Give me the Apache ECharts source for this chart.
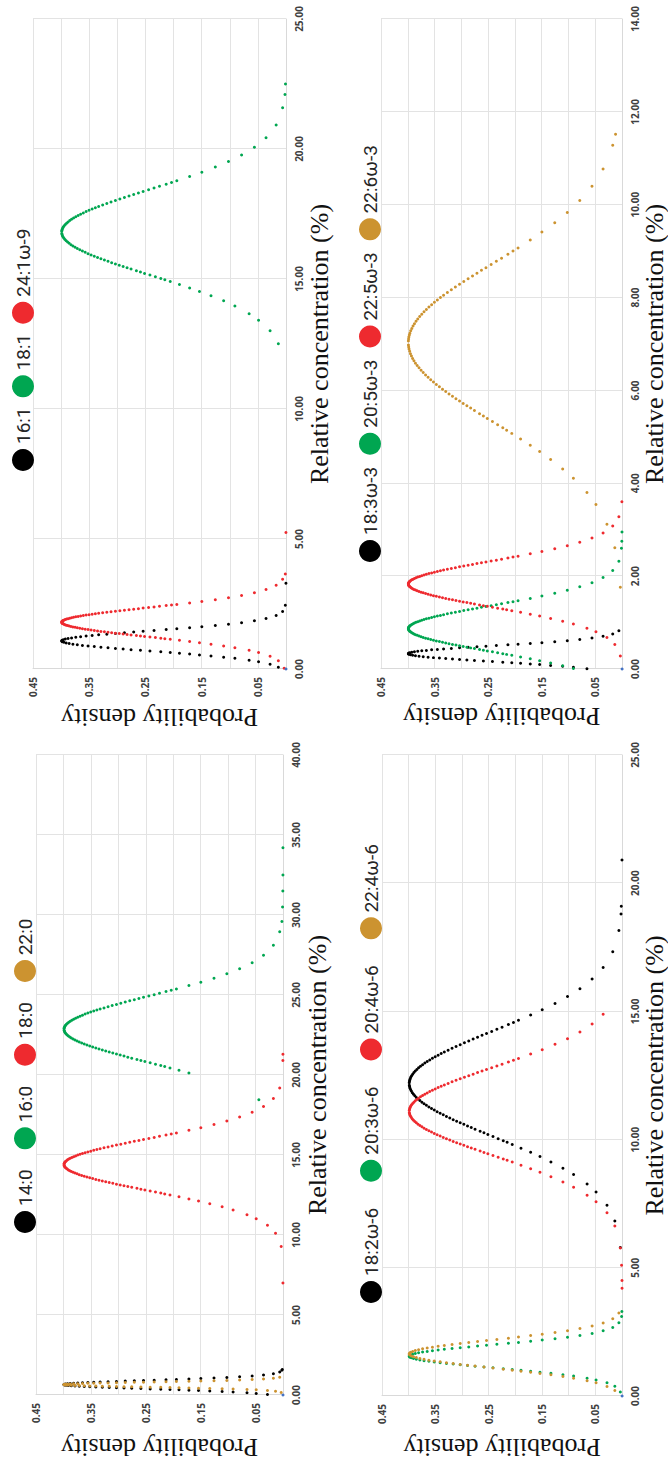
<!DOCTYPE html>
<html>
<head>
<meta charset="utf-8">
<script src="https://cdn.jsdelivr.net/npm/echarts@6/dist/echarts.min.js"></script>
<style>
html,body{margin:0;padding:0;background:#fff;overflow:hidden;width:668px;height:1466px;}
#chart{position:absolute;left:0;top:0;width:1466px;height:668px;transform-origin:0 0;transform:translateY(1466px) rotate(-90deg);}
</style>
</head>
<body>
<div id="chart"></div>
<script>
// Density levels (shared sampling of each bell curve)
const DENS = [0.0033,0.0136,0.0283,0.0488,0.0656,0.0909,0.1109,0.1334,0.1539,0.1714,0.1895,0.2059,0.2227,0.2420,0.2589,0.2756,0.2897,0.3034,0.3166,0.3292,0.3410,0.3521,0.3621,0.3712,0.3790,0.3857,0.3910,0.3950,0.3977,0.3988,
 0.3989,0.3980,0.3961,0.3925,0.3876,0.3814,0.3739,0.3653,0.3555,0.3448,0.3332,0.3187,0.3034,0.2874,0.2709,0.2541,0.2347,0.2131,0.1942,0.1714,0.1497,0.1257,0.1023,0.0790,0.0562,0.0355,0.0175,0.0060];
// Extra density levels near the peaks (where the dots merge into solid arcs)
const DENS2 = [0.2155,0.2323,0.2516,0.2661,0.2827,0.2966,0.3101,0.3230,0.3352,0.3467,0.3572,0.3668,0.3752,0.3825,0.3885,0.3932,0.3965,0.3983,
 0.3985,0.3971,0.3945,0.3902,0.3846,0.3778,0.3697,0.3605,0.3503,0.3391,0.3261,0.3112,0.2955,0.2792,0.2625,0.2444,0.2250,0.2036];

// Panel: monounsaturated
const NAMES_MONO = ['16:1','18:1','24:1ω-9'];
const C_16_1 = [null,0.066,0.183,0.28,0.339,0.409,0.456,0.503,0.542,0.573,0.604,0.632,0.659,0.69,0.717,0.745,0.768,0.791,0.815,0.838,0.862,0.885,0.908,0.932,0.955,0.979,1.002,1.025,1.049,1.068,
 1.088,1.107,1.127,1.15,1.174,1.197,1.22,1.244,1.267,1.291,1.314,1.341,1.369,1.396,1.423,1.451,1.482,1.517,1.548,1.587,1.626,1.673,1.724,1.782,1.852,1.938,2.055,2.211];
const X_16_1 = [[2.45,0.0012],[3.3,0.0001]];
const K_16_1 = [];
const C_18_1 = [null,12.51,13.005,13.418,13.665,13.962,14.16,14.358,14.523,14.655,14.787,14.903,15.018,15.15,15.266,15.381,15.48,15.579,15.678,15.777,15.876,15.975,16.074,16.173,16.272,16.371,16.47,16.569,16.668,16.75,
 16.833,16.916,16.998,17.097,17.196,17.295,17.394,17.493,17.592,17.691,17.79,17.906,18.021,18.137,18.252,18.368,18.5,18.648,18.78,18.945,19.11,19.308,19.523,19.77,20.067,20.43,20.925,21.585];
const X_18_1 = [[22.1,0.0018],[22.5,0.0009]];
const K_18_1 = [14.969,15.084,15.216,15.315,15.431,15.53,15.629,15.728,15.827,15.926,16.025,16.124,16.223,16.322,16.421,16.52,16.619,16.709,
 16.874,16.957,17.048,17.147,17.246,17.345,17.444,17.543,17.642,17.741,17.848,17.963,18.079,18.194,18.31,18.434,18.566,18.714];
const C_24_1 = [0.033,0.318,0.489,0.632,0.717,0.82,0.888,0.956,1.013,1.059,1.105,1.145,1.184,1.23,1.27,1.31,1.344,1.378,1.412,1.447,1.481,1.515,1.549,1.583,1.618,1.652,1.686,1.72,1.754,1.783,
 1.811,1.84,1.868,1.903,1.937,1.971,2.005,2.039,2.074,2.108,2.142,2.182,2.222,2.262,2.302,2.342,2.387,2.438,2.484,2.541,2.598,2.666,2.741,2.826,2.929,3.054,3.225,3.453];
const X_24_1 = [[3.65,0.0012],[5.25,0.0001]];
const K_24_1 = [1.167,1.207,1.253,1.287,1.327,1.361,1.395,1.43,1.464,1.498,1.532,1.566,1.601,1.635,1.669,1.703,1.737,1.769,
 1.826,1.854,1.886,1.92,1.954,1.988,2.022,2.057,2.091,2.125,2.162,2.202,2.242,2.282,2.322,2.364,2.41,2.461];

// Panel: omega-3
const NAMES_W3 = ['18:3ω-3','20:5ω-3','22:5ω-3','22:6ω-3'];
const C_18_3 = [null,null,null,null,0.007,0.038,0.058,0.078,0.095,0.109,0.123,0.135,0.146,0.16,0.172,0.184,0.194,0.204,0.214,0.225,0.235,0.245,0.255,0.265,0.276,0.286,0.296,0.306,0.316,0.325,
 0.333,0.342,0.35,0.361,0.371,0.381,0.391,0.401,0.412,0.422,0.432,0.444,0.456,0.468,0.48,0.492,0.505,0.52,0.534,0.551,0.568,0.588,0.611,0.636,0.667,0.704,0.755,0.823];
const X_18_3 = [];
const K_18_3 = [];
const C_20_5 = [null,null,null,null,null,0.01,0.07,0.13,0.18,0.22,0.26,0.295,0.33,0.37,0.405,0.44,0.47,0.5,0.53,0.56,0.59,0.62,0.65,0.68,0.71,0.74,0.77,0.8,0.83,0.855,
 0.88,0.905,0.93,0.96,0.99,1.02,1.05,1.08,1.11,1.14,1.17,1.205,1.24,1.275,1.31,1.345,1.385,1.43,1.47,1.52,1.57,1.63,1.695,1.77,1.86,1.97,2.12,2.32];
const X_20_5 = [[2.6,0.0012],[2.75,0.0005],[2.95,0.0002]];
const K_20_5 = [0.315,0.35,0.39,0.42,0.455,0.485,0.515,0.545,0.575,0.605,0.635,0.665,0.695,0.725,0.755,0.785,0.815,0.843,
 0.893,0.918,0.945,0.975,1.005,1.035,1.065,1.095,1.125,1.155,1.188,1.223,1.258,1.293,1.328,1.365,1.405,1.45];
const C_22_5 = [0.28,0.53,0.68,0.805,0.88,0.97,1.03,1.09,1.14,1.18,1.22,1.255,1.29,1.33,1.365,1.4,1.43,1.46,1.49,1.52,1.55,1.58,1.61,1.64,1.67,1.7,1.73,1.76,1.79,1.815,
 1.84,1.865,1.89,1.92,1.95,1.98,2.01,2.04,2.07,2.1,2.13,2.165,2.2,2.235,2.27,2.305,2.345,2.39,2.43,2.48,2.53,2.59,2.655,2.73,2.82,2.93,3.08,3.28];
const X_22_5 = [[3.6,0.0004]];
const K_22_5 = [1.275,1.31,1.35,1.38,1.415,1.445,1.475,1.505,1.535,1.565,1.595,1.625,1.655,1.685,1.715,1.745,1.775,1.803,
 1.853,1.878,1.905,1.935,1.965,1.995,2.025,2.055,2.085,2.115,2.148,2.183,2.218,2.253,2.288,2.325,2.365,2.41];
const C_22_6 = [1.76,2.61,3.12,3.545,3.8,4.106,4.31,4.514,4.684,4.82,4.956,5.075,5.194,5.33,5.449,5.568,5.67,5.772,5.874,5.976,6.078,6.18,6.282,6.384,6.486,6.588,6.69,6.792,6.894,6.979,
 7.064,7.149,7.234,7.336,7.438,7.54,7.642,7.744,7.846,7.948,8.05,8.169,8.288,8.407,8.526,8.645,8.781,8.934,9.07,9.24,9.41,9.614,9.835,10.09,10.396,10.77,11.28,null];
const X_22_6 = [[11.52,0.0122]];
const K_22_6 = [5.143,5.262,5.398,5.5,5.619,5.721,5.823,5.925,6.027,6.129,6.231,6.333,6.435,6.537,6.639,6.741,6.843,6.937,
 7.107,7.192,7.285,7.387,7.489,7.591,7.693,7.795,7.897,7.999,8.11,8.229,8.348,8.467,8.586,8.713,8.849,9.002];

// Panel: saturated
const NAMES_SAT = ['14:0','16:0','18:0','22:0'];
const C_14_0 = [null,null,0.029,0.097,0.137,0.186,0.218,0.25,0.277,0.299,0.321,0.34,0.358,0.38,0.399,0.418,0.434,0.45,0.466,0.483,0.499,0.515,0.531,0.547,0.564,0.58,0.596,0.612,0.628,0.642,
 0.655,0.669,0.682,0.699,0.715,0.731,0.747,0.763,0.78,0.796,0.812,0.831,0.85,0.869,0.888,0.907,0.928,0.952,0.974,1.001,1.028,1.06,1.096,1.136,1.185,1.244,1.325,1.433];
const X_14_0 = [[1.55,0.0022],[1.6,0.0012]];
const K_14_0 = [];
const C_16_0 = [null,null,null,null,null,null,null,null,null,20.13,20.298,20.445,20.592,20.76,20.907,21.054,21.18,21.306,21.432,21.558,21.684,21.81,21.936,22.062,22.188,22.314,22.44,22.566,22.692,22.797,
 22.902,23.007,23.112,23.238,23.364,23.49,23.616,23.742,23.868,23.994,24.12,24.267,24.414,24.561,24.708,24.855,25.023,25.212,25.38,25.59,25.8,26.052,26.325,26.64,27.018,27.48,28.11,28.95];
const X_16_0 = [[18.45,0.044],[29.6,0.002],[30.5,0.0008],[31.5,0.0003],[32.5,0.0001],[34.2,0.0001]];
const K_16_0 = [20.529,20.676,20.844,20.97,21.117,21.243,21.369,21.495,21.621,21.747,21.873,21.999,22.125,22.251,22.377,22.503,22.629,22.745,
 22.955,23.06,23.175,23.301,23.427,23.553,23.679,23.805,23.931,24.057,24.194,24.341,24.488,24.635,24.782,24.939,25.107,25.296];
const C_18_0 = [9.285,10.11,10.605,11.018,11.265,11.562,11.76,11.958,12.123,12.255,12.387,12.503,12.618,12.75,12.866,12.981,13.08,13.179,13.278,13.377,13.476,13.575,13.674,13.773,13.872,13.971,14.07,14.169,14.268,14.35,
 14.433,14.516,14.598,14.697,14.796,14.895,14.994,15.093,15.192,15.291,15.39,15.506,15.621,15.737,15.852,15.968,16.1,16.248,16.38,16.545,16.71,16.908,17.123,17.37,17.667,18.03,18.525,19.185];
const X_18_0 = [[7.0,0.0001],[20.9,0.0002],[21.3,0.0001]];
const K_18_0 = [12.569,12.684,12.816,12.915,13.031,13.13,13.229,13.328,13.427,13.526,13.625,13.724,13.823,13.922,14.021,14.12,14.219,14.309,
 14.474,14.557,14.648,14.747,14.846,14.945,15.044,15.143,15.242,15.341,15.448,15.563,15.679,15.794,15.91,16.034,16.166,16.314];
const C_22_0 = [0.154,0.234,0.282,0.322,0.346,0.375,0.394,0.413,0.429,0.442,0.455,0.466,0.477,0.49,0.501,0.512,0.522,0.532,0.541,0.551,0.56,0.57,0.58,0.589,0.599,0.608,0.618,0.628,0.637,0.645,
 0.653,0.661,0.669,0.679,0.688,0.698,0.708,0.717,0.727,0.736,0.746,0.757,0.768,0.78,0.791,0.802,0.815,0.829,0.842,0.858,0.874,0.893,0.914,0.938,0.967,1.002,1.05,1.114];
const X_22_0 = [];
const K_22_0 = [];

// Panel: omega-6
const NAMES_W6 = ['18:2ω-6','20:3ω-6','20:4ω-6','22:4ω-6'];
const C_18_2 = [5.794,6.824,7.442,7.957,8.266,8.637,8.884,9.131,9.337,9.502,9.667,9.811,9.955,10.12,10.264,10.408,10.532,10.656,10.779,10.903,11.026,11.15,11.274,11.397,11.521,11.644,11.768,11.892,12.015,12.118,
 12.221,12.324,12.427,12.551,12.674,12.798,12.922,13.045,13.169,13.292,13.416,13.56,13.704,13.849,13.993,14.137,14.302,14.487,14.652,14.858,15.064,15.311,15.579,15.888,16.259,16.712,17.33,18.154];
const X_18_2 = [[18.8,0.002],[19.1,0.0015],[20.9,0.0002]];
const K_18_2 = [9.893,10.038,10.202,10.326,10.47,10.594,10.717,10.841,10.965,11.088,11.212,11.335,11.459,11.583,11.706,11.83,11.953,12.067,
 12.273,12.376,12.489,12.613,12.736,12.86,12.983,13.107,13.231,13.354,13.488,13.632,13.777,13.921,14.065,14.219,14.384,14.57];
const C_20_3 = [0.155,0.38,0.515,0.628,0.695,0.776,0.83,0.884,0.929,0.965,1.001,1.033,1.064,1.1,1.132,1.163,1.19,1.217,1.244,1.271,1.298,1.325,1.352,1.379,1.406,1.433,1.46,1.487,1.514,1.537,
 1.559,1.582,1.604,1.631,1.658,1.685,1.712,1.739,1.766,1.793,1.82,1.852,1.883,1.915,1.946,1.978,2.014,2.054,2.09,2.135,2.18,2.234,2.293,2.36,2.441,2.54,2.675,2.855];
const X_20_3 = [[3.1,0.0009],[3.3,0.0004]];
const K_20_3 = [];
const C_20_4 = [5.768,6.628,7.144,7.574,7.832,8.142,8.348,8.554,8.726,8.864,9.002,9.122,9.242,9.38,9.5,9.621,9.724,9.827,9.93,10.034,10.137,10.24,10.343,10.446,10.55,10.653,10.756,10.859,10.962,11.048,
 11.134,11.22,11.306,11.41,11.513,11.616,11.719,11.822,11.926,12.029,12.132,12.252,12.373,12.493,12.614,12.734,12.872,13.026,13.164,13.336,13.508,13.714,13.938,14.196,14.506,14.884,null,null];
const X_20_4 = [[4.2,0.0001],[4.5,0.0002],[5.1,0.001]];
const K_20_4 = [9.191,9.311,9.449,9.552,9.672,9.776,9.879,9.982,10.085,10.188,10.292,10.395,10.498,10.601,10.704,10.808,10.911,11.005,
 11.177,11.263,11.358,11.461,11.564,11.668,11.771,11.874,11.977,12.08,12.192,12.313,12.433,12.553,12.674,12.803,12.94,13.095];
const C_22_4 = [null,0.21,0.375,0.513,0.595,0.694,0.76,0.826,0.881,0.925,0.969,1.008,1.046,1.09,1.129,1.167,1.2,1.233,1.266,1.299,1.332,1.365,1.398,1.431,1.464,1.497,1.53,1.563,1.596,1.624,
 1.651,1.679,1.706,1.739,1.772,1.805,1.838,1.871,1.904,1.937,1.97,2.009,2.047,2.086,2.124,2.163,2.207,2.256,2.3,2.355,2.41,2.476,2.548,2.63,2.729,2.85,3.015,3.235];
const X_22_4 = [];
const K_22_4 = [];

// Origin marker present in every panel
const ORIGIN = [[0, 0]];

// Axis scales and tick labels
const CONC_MAX = [25, 14, 40, 25];
const CONC_STEP = [5, 2, 5, 5];
const DENS_TICK_LABELS = ['0.05','0.15','0.25','0.35','0.45'];

const COLORS = {black:'#000000', green:'#00A651', red:'#EE2A2F', gold:'#CC9330', blue:'#4472C4'};

function pts(conc, extra, core) {
  const out = [];
  conc.forEach((c, i) => { if (c !== null) out.push([c, DENS[i]]); });
  core.forEach((c, i) => { out.push([c, DENS2[i]]); });
  return out.concat(extra);
}

// layout (original, un-rotated figure coordinates)
const grids = [
  {left: 797, top: 33, width: 650, height: 253},
  {left: 797, top: 381, width: 650, height: 251},
  {left: 71, top: 36, width: 640, height: 247},
  {left: 70, top: 382, width: 641, height: 248}
];
const xNameGap = [20, 16, 21, 16];
const yNameGap = [35, 34, 39, 38];
const legendPos = [
  {left: 990, top: 7, gap: 10, names: NAMES_MONO},
  {left: 899, top: 354, gap: 12, names: NAMES_W3},
  {left: 228, top: 9, gap: 20, names: NAMES_SAT},
  {left: 158, top: 355, gap: 26, names: NAMES_W6}
];

const gridLine = '#E3E3E3';
const titleStyle = {fontFamily: 'Liberation Serif', fontWeight: 'normal', fontSize: 26, color: '#111111'};
const xAxes = grids.map((g, i) => ({
  gridIndex: i, type: 'value', min: 0, max: CONC_MAX[i], interval: CONC_STEP[i],
  name: 'Relative concentration (%)', nameLocation: 'middle', nameGap: xNameGap[i],
  nameTextStyle: titleStyle,
  axisLine: {show: true, lineStyle: {color: '#D9D9D9'}},
  axisTick: {show: false},
  axisLabel: {fontSize: 10, fontWeight: 'bold', color: '#404040', margin: 8, fontFamily: 'Open Sans',
    formatter: v => v.toFixed(2)},
  splitLine: {show: true, lineStyle: {color: gridLine}}
}));
const yAxes = grids.map((g, i) => ({
  gridIndex: i, type: 'value', min: 0, max: 0.45, interval: 0.05,
  name: 'Probability density', nameLocation: 'middle', nameGap: yNameGap[i],
  nameTextStyle: titleStyle,
  axisLine: {show: true, lineStyle: {color: '#D9D9D9'}},
  axisTick: {show: false},
  axisLabel: {fontSize: 10, fontWeight: 'bold', color: '#404040', margin: 8, fontFamily: 'Open Sans',
    formatter: v => DENS_TICK_LABELS.includes(v.toFixed(2)) ? v.toFixed(2) : ''},
  splitLine: {show: true, lineStyle: {color: gridLine}}
}));

function sc(name, idx, data, color) {
  return {name: name, type: 'scatter', xAxisIndex: idx, yAxisIndex: idx, data: data,
    symbolSize: 3, itemStyle: {color: color, opacity: 1}, silent: true};
}

const series = [
  sc(NAMES_MONO[0], 0, pts(C_16_1, X_16_1, K_16_1), COLORS.black),
  sc(NAMES_MONO[1], 0, pts(C_18_1, X_18_1, K_18_1), COLORS.green),
  sc(NAMES_MONO[2], 0, pts(C_24_1, X_24_1, K_24_1), COLORS.red),
  sc('origin', 0, ORIGIN, COLORS.blue),
  sc(NAMES_W3[0], 1, pts(C_18_3, X_18_3, K_18_3), COLORS.black),
  sc(NAMES_W3[1], 1, pts(C_20_5, X_20_5, K_20_5), COLORS.green),
  sc(NAMES_W3[2], 1, pts(C_22_5, X_22_5, K_22_5), COLORS.red),
  sc(NAMES_W3[3], 1, pts(C_22_6, X_22_6, K_22_6), COLORS.gold),
  sc('origin', 1, ORIGIN, COLORS.blue),
  sc(NAMES_SAT[0], 2, pts(C_14_0, X_14_0, K_14_0), COLORS.black),
  sc(NAMES_SAT[1], 2, pts(C_16_0, X_16_0, K_16_0), COLORS.green),
  sc(NAMES_SAT[2], 2, pts(C_18_0, X_18_0, K_18_0), COLORS.red),
  sc(NAMES_SAT[3], 2, pts(C_22_0, X_22_0, K_22_0), COLORS.gold),
  sc('origin', 2, ORIGIN, COLORS.blue),
  sc(NAMES_W6[0], 3, pts(C_18_2, X_18_2, K_18_2), COLORS.black),
  sc(NAMES_W6[1], 3, pts(C_20_3, X_20_3, K_20_3), COLORS.green),
  sc(NAMES_W6[2], 3, pts(C_20_4, X_20_4, K_20_4), COLORS.red),
  sc(NAMES_W6[3], 3, pts(C_22_4, X_22_4, K_22_4), COLORS.gold),
  sc('origin', 3, ORIGIN, COLORS.blue)
];

const legends = legendPos.map(l => ({
  data: l.names, left: l.left, top: l.top, orient: 'horizontal', itemGap: l.gap,
  itemWidth: 22, itemHeight: 22, icon: 'circle', selectedMode: false,
  textStyle: {fontFamily: 'Roboto', fontSize: 19, color: '#262626'}
}));

const chart = echarts.init(document.getElementById('chart'), null, {renderer: 'svg', width: 1466, height: 668});
chart.setOption({
  animation: false,
  backgroundColor: '#ffffff',
  grid: grids,
  xAxis: xAxes,
  yAxis: yAxes,
  legend: legends,
  series: series
});
</script>
</body>
</html>
